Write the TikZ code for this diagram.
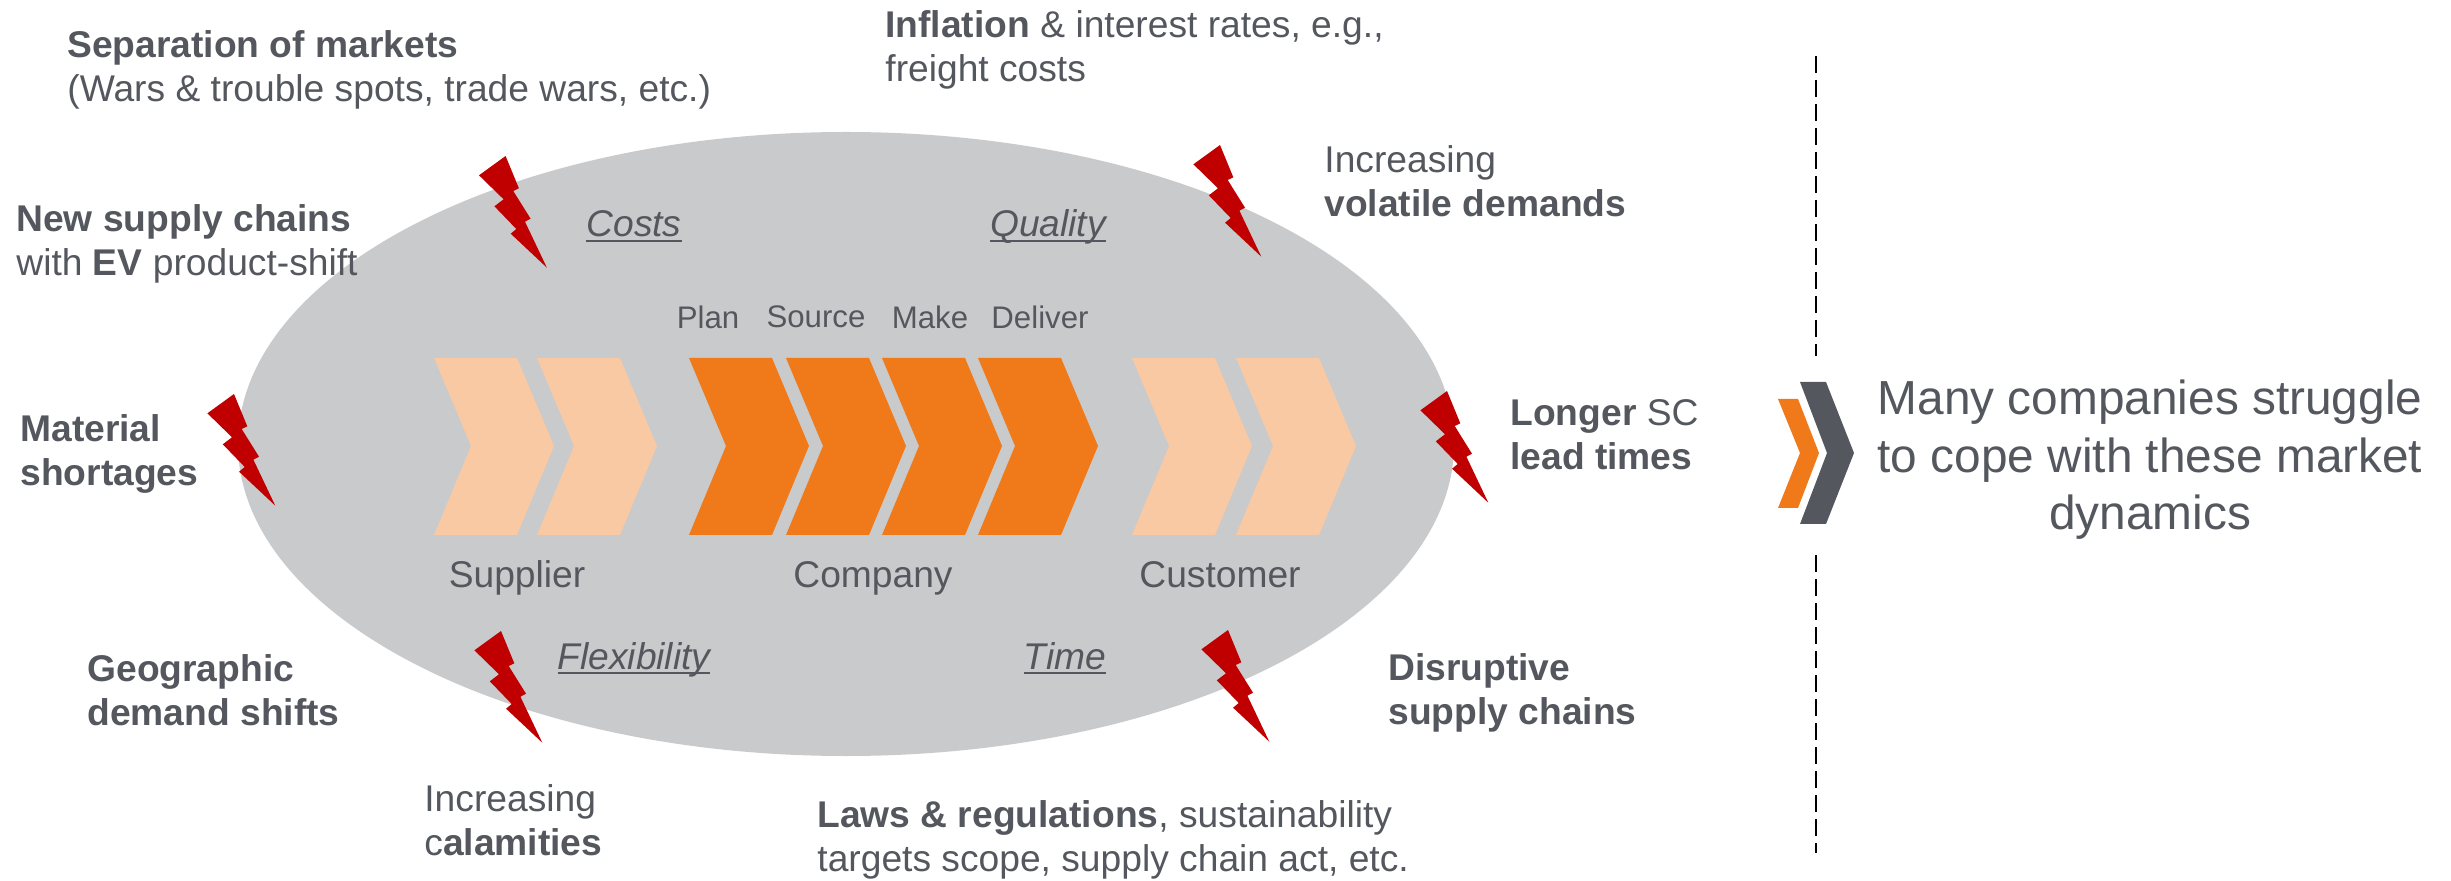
\documentclass[tikz,border=0pt]{standalone}
\usepackage{fontspec}
\setmainfont{Liberation Sans}
\definecolor{txt}{HTML}{54585E}
\definecolor{ell}{HTML}{C9CACC}
\definecolor{org}{HTML}{F07A1A}
\definecolor{lorg}{HTML}{F8C9A3}
\definecolor{bolt}{HTML}{C00000}
\newcommand\ulab[1]{\leavevmode\setbox0\hbox{#1}\rlap{\raisebox{-2.6pt}{\rule{\wd0}{0.9pt}}}\box0}
\newcommand\chev[2]{\fill[#1] (#2,358) -- ++(83,0) -- ++(37,88) -- ++(-37,89) -- ++(-83,0) -- ++(37,-89) -- cycle;}
\newcommand\lightning[2]{\fill[bolt,shift={(#1,#2)}] (0,0) -- (13.3,32.3) -- (7.7,35) -- (25,62.7) -- (19.4,65.7) -- (41.3,111.7) -- (5.1,77.7) -- (10.7,73) -- (-11.2,50.3) -- (-2,43.3) -- (-26.6,19.3) -- cycle;}
\tikzset{
  lab/.style={inner sep=0pt,text=txt,font=\fontsize{18.6}{22}\selectfont},
  blk/.style={lab,anchor=west,align=left},
  small/.style={inner sep=0pt,text=txt,font=\fontsize{15.6}{18}\selectfont,anchor=center},
  mid/.style={lab,anchor=base},
  big/.style={inner sep=0pt,text=txt,font=\fontsize{23.9}{28.75}\selectfont,align=center,anchor=center},
  divider/.style={black,line width=0.8pt,dash pattern=on 8.5pt off 3.5pt}
}
\begin{document}
\begin{tikzpicture}[x=0.5pt,y=-0.5pt]
\useasboundingbox (0,0) rectangle (2451,881);
\fill[white] (0,0) rectangle (2451,881);
\fill[ell] (846,444) ellipse [x radius=608,y radius=312];
\chev{lorg}{434}\chev{lorg}{537}
\chev{org}{689}\chev{org}{786}\chev{org}{882}\chev{org}{978}
\chev{lorg}{1132}\chev{lorg}{1236}
\lightning{505.6}{156}
\lightning{1220}{145}
\lightning{234}{394}
\lightning{1447}{391}
\lightning{501}{631}
\lightning{1228}{630}
\node[small] (plan) at (708,317) {Plan};
\node[small] (source) at (816,317) {Source};
\node[small] (make) at (930,317) {Make};
\node[small] (deliver) at (1040,317) {Deliver};
\node[mid] (supplier) at (517,588) {Supplier};
\node[mid] (company) at (873,588) {Company};
\node[mid] (customer) at (1220,588) {Customer};
\node[mid] (costs) at (634,237) {\ulab{\itshape Costs}};
\node[mid] (quality) at (1048,237) {\ulab{\itshape Quality}};
\node[mid] (flex) at (634,669) {\ulab{\itshape Flexibility}};
\node[mid] (time) at (1065,669) {\ulab{\itshape Time}};
\node[blk] (sep) at (67,70) {\textbf{Separation of markets}\\(Wars \& trouble spots, trade wars, etc.)};
\node[blk] (infl) at (885,50) {\textbf{Inflation} \& interest rates, e.g.,\\freight costs};
\node[blk] (vol) at (1324,181) {Increasing\\\textbf{volatile demands}};
\node[blk] (new) at (16,244) {\textbf{New supply chains}\\with \textbf{EV} product-shift};
\node[blk] (mat) at (20,454) {\textbf{Material}\\\textbf{shortages}};
\node[blk] (lead) at (1510,435) {\textbf{Longer} SC\\\textbf{lead times}};
\node[blk] (geo) at (87,690) {\textbf{Geographic}\\\textbf{demand shifts}};
\node[blk] (dis) at (1388,693) {\textbf{Disruptive}\\\textbf{supply chains}};
\node[blk] (cal) at (424,820) {Increasing\\c\textbf{alamities}};
\node[blk] (laws) at (817,840) {\textbf{Laws \& regulations}, sustainability\\targets scope, supply chain act, etc.};
\fill[org] (1778,399) -- (1798,399) -- (1819,453) -- (1798,508) -- (1778,508) -- (1800,453) -- cycle;
\fill[txt] (1800,382) -- (1826,382) -- (1854,453) -- (1826,524) -- (1800,524) -- (1827,453) -- cycle;
\node[big] (msg) at (2150,460) {Many companies struggle\\to cope with these market\\dynamics};
\coordinate (d1) at (1816,56);
\coordinate (d2) at (1816,356);
\coordinate (d3) at (1816,555);
\coordinate (d4) at (1816,853);
\draw[divider] (d1) -- (d2);
\draw[divider] (d3) -- (d4);
\end{tikzpicture}
\end{document}
